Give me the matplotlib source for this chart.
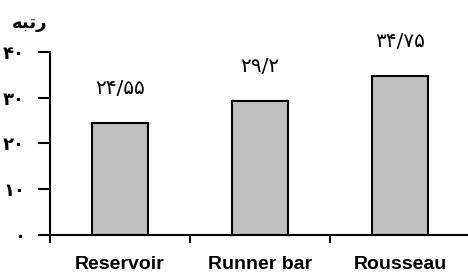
import matplotlib.pyplot as plt

plt.rcParams["font.family"] = ["DejaVu Sans"]

categories = ["Reservoir", "Runner bar", "Rousseau"]
values = [24.55, 29.2, 34.75]
value_labels = ["۲۴/۵۵", "۲۹/۲", "۳۴/۷۵"]
y_ticks = [0, 10, 20, 30, 40]
y_tick_labels = ["۰", "۱۰", "۲۰", "۳۰", "۴۰"]
# "رتبه" in presentation forms, left-to-right visual order
y_title = "\ufeea\ufe92\ufe97\ufead"

fig = plt.figure(figsize=(4.68, 2.73), dpi=100)
ax = fig.add_axes([0.107, 0.139, 0.897, 0.671])

x = list(range(len(categories)))
ax.bar(x, values, width=0.4, color="#c0c0c0", edgecolor="black", linewidth=1.5)

for xi, v, lab in zip(x, values, value_labels):
    ax.text(xi, v + 7.5, lab, ha="center", va="center", fontsize=14.5)

ax.set_xlim(-0.5, 2.5)
ax.set_ylim(0, 40)

ax.set_xticks(x)
ax.set_xticklabels(categories, fontfamily="Liberation Sans", fontweight="bold", fontsize=14)
ax.tick_params(axis="x", which="major", length=0, pad=15)
ax.set_xticks([-0.5, 0.5, 1.5, 2.5], minor=True)
ax.tick_params(axis="x", which="minor", length=6, width=1.5, direction="out")

ax.set_yticks(y_ticks)
ax.set_yticklabels(y_tick_labels, fontweight="bold", fontsize=13)
ax.tick_params(axis="y", length=9, width=1.5, direction="out", pad=9)

for side in ["top", "right"]:
    ax.spines[side].set_visible(False)
for side in ["left", "bottom"]:
    ax.spines[side].set_linewidth(1.5)

fig.text(12 / 468, 1 - 23 / 273, y_title, fontweight="bold", fontsize=13,
         ha="left", va="center")

fig.savefig("out.png", dpi=100)
